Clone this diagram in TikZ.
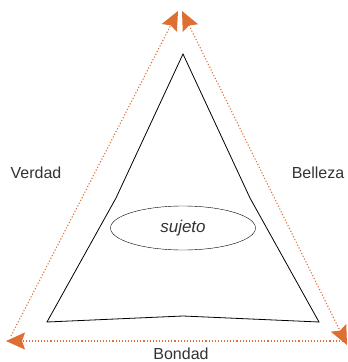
\documentclass[tikz,border=0pt]{standalone}
\usepackage{fontspec}
\setmainfont{Liberation Sans}
\usetikzlibrary{positioning, arrows.meta, shapes.geometric}
\definecolor{naranja}{RGB}{222,110,50}

\begin{document}
\begin{tikzpicture}[x=1pt,y=-1pt,every node/.style={font=\fontsize{16}{19}\selectfont,text=black!80},
    punta/.tip={Stealth[length=19pt,width=17pt,inset=3pt,sep=0pt]},
    lado/.style={naranja,line width=1.1pt,dash pattern=on 1.1pt off 2pt}]
            \useasboundingbox (0,0) rectangle (348,362);
            % vertices del triangulo interior
            \coordinate (cima) at (183,54);
            \coordinate (izqm) at (116,198);
            \coordinate (izq) at (47,322);
            \coordinate (basem) at (183,316);
            \coordinate (der) at (319,322);
            \coordinate (derm) at (250,198);
            \draw[line width=0.8pt] (cima) -- (izqm) -- (izq) -- (basem) -- (der) -- (derm) -- cycle;

            % vertices del triangulo exterior
            \coordinate (arribai) at (178,11);
            \coordinate (arribad) at (182,11);
            \coordinate (abajoi) at (11,336);
            \coordinate (puntai) at (6,341);
            \coordinate (abajod) at (346,341);
            \coordinate (puntad) at (347,345);

            \draw[lado,-punta] (abajoi) -- (arribai);
            \draw[lado,punta-punta] (arribad) -- (puntad);
            \draw[lado,-punta] (abajod) -- (puntai);

            \node[draw,ellipse,minimum width=145pt,minimum height=44pt,inner sep=0pt,font=\fontsize{17}{20}\selectfont\itshape] (sujeto) at (183,228) {sujeto};
            \node (verdad) at (36,173) {Verdad};
            \node (belleza) at (318,173) {Belleza};
            \node (bondad) at (181,354) {Bondad};
        \end{tikzpicture}
\end{document}
